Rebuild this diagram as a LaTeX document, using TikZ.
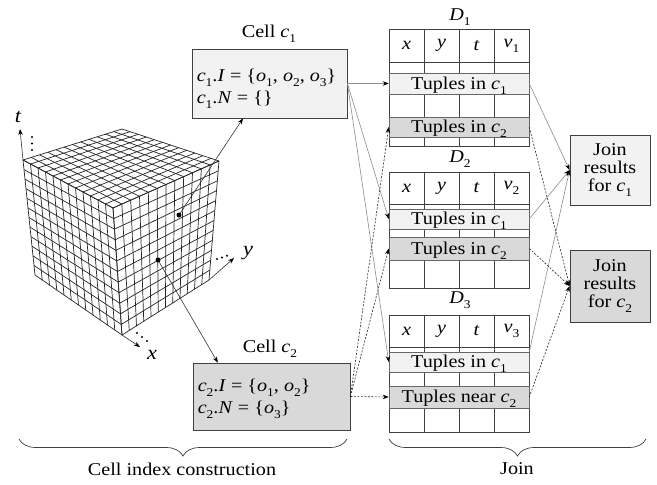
\documentclass[tikz,border=0pt]{standalone}
\usepackage{fontspec}
\setmainfont{Liberation Serif}[FakeStretch=1.12]
\usetikzlibrary{calc,arrows.meta,decorations.pathreplacing}
% italic variable with an upright subscript
\newcommand\ix[2]{\textit{#1}\raisebox{-0.28em}{\fontsize{12}{12}\selectfont #2}}
\definecolor{lightcell}{HTML}{F2F2F2}
\definecolor{darkcell}{HTML}{D9D9D9}
\tikzset{
  cubeline/.style={draw=black!85, line width=0.7pt},
  tabline/.style={draw=black!75, line width=0.7pt},
  boxframe/.style={draw=black!75, line width=0.8pt, rectangle, inner sep=0pt},
  rowbox/.style={draw=black!60, line width=0.5pt, rectangle, inner sep=0pt,
    minimum width=140pt, text height=15pt, text depth=4pt},
  tip/.style={-{Stealth[length=6pt,width=4.5pt,color=black]}},
  solidlink/.style={tip, draw=black!45, line width=0.6pt},
  dashlink/.style={tip, draw=black!85, line width=0.6pt, dash pattern=on 2pt off 1.5pt},
  pointer/.style={tip, draw=black!80, line width=0.6pt},
  celldot/.style={circle, fill=black, inner sep=0pt, minimum size=5pt},
  smalldot/.style={circle, fill=black, inner sep=0pt, minimum size=2.2pt},
  brace/.style={decorate, decoration={brace, mirror, amplitude=17pt}, draw=black!75, line width=0.7pt},
}
\begin{document}
\begin{tikzpicture}[x=1pt, y=-1pt, font=\fontsize{18}{22}\selectfont]
\useasboundingbox (0,0) rectangle (657,485);

% ---------- the grid cube ----------
\coordinate (A) at (23,160);
\coordinate (B) at (122,129);
\coordinate (C) at (219,161);
\coordinate (D) at (113,208);
\coordinate (E) at (35,275);
\coordinate (F) at (122,335);
\coordinate (G) at (209,280);
\fill[white] (A) -- (B) -- (C) -- (G) -- (F) -- (E) -- cycle;
\foreach \i in {0,...,12} {
  \draw[cubeline] ($(A)!\i/12!(D)$) -- ($(B)!\i/12!(C)$);
  \draw[cubeline] ($(A)!\i/12!(B)$) -- ($(D)!\i/12!(C)$);
  \draw[cubeline] ($(A)!\i/12!(D)$) -- ($(E)!\i/12!(F)$);
  \draw[cubeline] ($(A)!\i/12!(E)$) -- ($(D)!\i/12!(F)$);
  \draw[cubeline] ($(D)!\i/12!(C)$) -- ($(F)!\i/12!(G)$);
  \draw[cubeline] ($(D)!\i/12!(F)$) -- ($(C)!\i/12!(G)$);
}

% axes
\coordinate (tend) at (20,129);
\coordinate (xend) at (140,347);
\coordinate (yend) at (234,258);
\draw[pointer] (A) -- (tend);
\draw[pointer] (F) -- (xend);
\draw[pointer] (G) -- (yend);
\node[font=\fontsize{20}{20}\selectfont\itshape] (tlab) at (18,117) {t};
\node[font=\fontsize{20}{20}\selectfont\itshape] (xlab) at (152,355) {x};
\node[font=\fontsize{20}{20}\selectfont\itshape] (ylab) at (248,253) {y};
\foreach \p in {(32,137),(32,143.5),(32,150)} \node[smalldot] at \p {};
\foreach \p in {(137,333),(142,337),(147,341)} \node[smalldot] at \p {};
\foreach \p in {(217,259),(222,257.5),(227,255.7)} \node[smalldot] at \p {};

% the two marked cells
\node[celldot] (pone) at (179,215) {};
\node[celldot] (ptwo) at (158,260) {};

% ---------- cell boxes ----------
\node[boxframe, fill=lightcell, minimum width=155pt, minimum height=69pt] (cellone) at (269.5,83.5) {};
\node[anchor=south] (cellonetitle) at (269,46) {Cell \ix{c}{1}};
\node[anchor=west, align=left, inner sep=0pt] (cellonetext) at ($(cellone.west)+(5,5.5)$)
  {\ix{c}{1}.\textit{I} = \{\ix{o}{1}, \ix{o}{2}, \ix{o}{3}\}\\ \ix{c}{1}.\textit{N} = \{\}};

\node[boxframe, fill=darkcell, minimum width=157pt, minimum height=67pt] (celltwo) at (271.5,396.5) {};
\node[anchor=south] (celltwotitle) at (270,361) {Cell \ix{c}{2}};
\node[anchor=west, align=left, inner sep=0pt] (celltwotext) at ($(celltwo.west)+(5,2)$)
  {\ix{c}{2}.\textit{I} = \{\ix{o}{1}, \ix{o}{2}\}\\ \ix{c}{2}.\textit{N} = \{\ix{o}{3}\}};

\draw[pointer] (pone) -- ($(cellone.south west)!0.33!(cellone.south east)$);
\draw[pointer] (ptwo) -- ($(celltwo.north west)!0.16!(celltwo.north east)$);

% ---------- tables ----------
% D1
\node[boxframe, minimum width=140pt, minimum height=117pt] (tabone) at (459,87.5) {};
\node (tabonename) at (460,17) {\ix{D}{1}};
\foreach \y in {62,73,94,117,137} \draw[tabline] (389,\y) -- (529,\y);
\foreach \x in {424,459,494} \draw[tabline] (\x,29) -- (\x,146);
\node at (406.5,45.5) {\textit{x}};
\node at (441.5,45.5) {\textit{y}};
\node at (476.5,45.5) {\textit{t}};
\node at (511.5,45.5) {\ix{v}{1}};
\node[rowbox, fill=lightcell, minimum height=21pt] (donea) at (459,83.5) {Tuples in \ix{c}{1}};
\node[rowbox, fill=darkcell, minimum height=20pt] (doneb) at (459,127) {Tuples in \ix{c}{2}};

% D2
\node[boxframe, minimum width=140pt, minimum height=116pt] (tabtwo) at (459,230) {};
\node (tabtwoname) at (460,159) {\ix{D}{2}};
\foreach \y in {204,209,229,237,260} \draw[tabline] (389,\y) -- (529,\y);
\foreach \x in {424,459,494} \draw[tabline] (\x,172) -- (\x,288);
\node at (406.5,188) {\textit{x}};
\node at (441.5,188) {\textit{y}};
\node at (476.5,188) {\textit{t}};
\node at (511.5,188) {\ix{v}{2}};
\node[rowbox, fill=lightcell, minimum height=20pt] (dtwoa) at (459,219) {Tuples in \ix{c}{1}};
\node[rowbox, fill=darkcell, minimum height=23pt] (dtwob) at (459,248.5) {Tuples in \ix{c}{2}};

% D3
\node[boxframe, minimum width=140pt, minimum height=117pt] (tabthree) at (459,373.5) {};
\node (tabthreename) at (460,300) {\ix{D}{3}};
\foreach \y in {347,352,372,386,408} \draw[tabline] (389,\y) -- (529,\y);
\foreach \x in {424,459,494} \draw[tabline] (\x,315) -- (\x,432);
\node at (406.5,331) {\textit{x}};
\node at (441.5,331) {\textit{y}};
\node at (476.5,331) {\textit{t}};
\node at (511.5,331) {\ix{v}{3}};
\node[rowbox, fill=lightcell, minimum height=20pt] (dthreea) at (459,362) {Tuples in \ix{c}{1}};
\node[rowbox, fill=darkcell, minimum height=22pt] (dthreeb) at (459,397) {Tuples near \ix{c}{2}};

% ---------- join result boxes ----------
\node[boxframe, fill=lightcell, minimum width=80pt, minimum height=70pt, align=center,
  font=\fontsize{18}{18}\selectfont] (joinone) at (610,170) {Join\\results\\for \ix{c}{1}};
\node[boxframe, fill=darkcell, minimum width=80pt, minimum height=72pt, align=center,
  font=\fontsize{18}{18}\selectfont] (jointwo) at (610,286) {Join\\results\\for \ix{c}{2}};

% ---------- connectors ----------
\draw[solidlink] (cellone.east) -- (donea.west);
\draw[solidlink] (cellone.east) -- (dtwoa.west);
\draw[solidlink] (cellone.east) -- (dthreea.west);
\draw[dashlink] (celltwo.east) -- (doneb.west);
\draw[dashlink] (celltwo.east) -- (dtwob.west);
\draw[dashlink] (celltwo.east) -- (dthreeb.west);

\draw[solidlink] (donea.east) -- (joinone.west);
\draw[solidlink] (dtwoa.east) -- (joinone.west);
\draw[solidlink] (dthreea.north east) -- (joinone.west);
\draw[dashlink] (doneb.east) -- (jointwo.west);
\draw[dashlink] (dtwob.east) -- (jointwo.west);
\draw[dashlink] (dthreeb.east) -- (jointwo.west);

% ---------- phase braces ----------
\coordinate (bonel) at (19,439);
\coordinate (boner) at (347,439);
\coordinate (btwol) at (389,439);
\coordinate (btwor) at (646,439);
\draw[brace] (bonel) -- (boner);
\draw[brace] (btwol) -- (btwor);
\node (phaseone) at (182,469) {Cell index construction};
\node (phasetwo) at (517,469) {Join};
\end{tikzpicture}
\end{document}
